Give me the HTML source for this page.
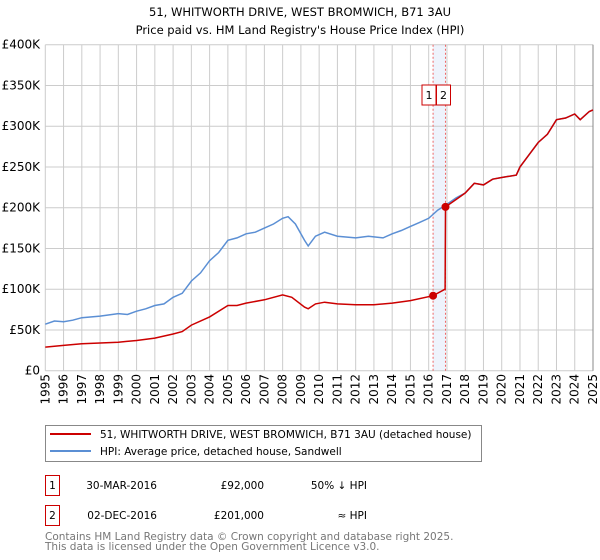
<!DOCTYPE html>
<html><head><meta charset="utf-8"><style>
body{margin:0;background:#fff;font-family:"DejaVu Sans","Liberation Sans",sans-serif;}
#wrap{position:relative;width:600px;height:560px;overflow:hidden}
</style></head><body><div id="wrap">
<svg id="chart" width="600" height="560" style="position:absolute;left:0;top:0;font-family:'DejaVu Sans','Liberation Sans',sans-serif"></svg>
</div>
<script>
const hpiYears=[1995,1995.5,1996,1996.5,1997,1998,1999,1999.5,2000,2000.5,2001,2001.5,2002,2002.5,2003,2003.5,2004,2004.5,2005,2005.5,2006,2006.5,2007,2007.5,2008,2008.3,2008.7,2009.2,2009.4,2009.8,2010.3,2011,2012,2012.7,2013.5,2014,2014.5,2015,2015.5,2016,2016.5,2016.92,2017.5,2018,2018.5,2019,2019.5,2020,2020.8,2021,2021.5,2022,2022.5,2023,2023.5,2024,2024.3,2024.8,2025];
const hpiValues=[57,61,60,62,65,67,70,69,73,76,80,82,90,95,110,120,135,145,160,163,168,170,175,180,187,189,180,160,153,165,170,165,163,165,163,168,172,177,182,187,197,203,212,218,230,228,235,237,240,250,265,280,290,308,310,315,308,318,320];
const redYears=[1995,1996,1997,1998,1999,2000,2001,2002,2002.5,2003,2004,2005,2005.5,2006,2007,2008,2008.5,2009.2,2009.4,2009.8,2010.3,2011,2012,2013,2014,2015,2016.24,2016.9,2016.92,2017.5,2018,2018.5,2019,2019.5,2020,2020.8,2021,2021.5,2022,2022.5,2023,2023.5,2024,2024.3,2024.8,2025];
const redValues=[29,31,33,34,35,37,40,45,48,56,66,80,80,83,87,93,90,78,76,82,84,82,81,81,83,86,92,100,201,210,218,230,228,235,237,240,250,265,280,290,308,310,315,308,318,320];
const saleYears=[2016.24,2016.92];
const saleValues=[92,201];
const yTicks=[0,50,100,150,200,250,300,350,400];
const yTickLabels=["£0","£50K","£100K","£150K","£200K","£250K","£300K","£350K","£400K"];
const xTicks=[1995,1996,1997,1998,1999,2000,2001,2002,2003,2004,2005,2006,2007,2008,2009,2010,2011,2012,2013,2014,2015,2016,2017,2018,2019,2020,2021,2022,2023,2024,2025];

const X0=45.3,X1=593,Y0=370.7,Y1=44.7;
const xs=y=>X0+(y-1995)/30*(X1-X0);
const ys=v=>Y0-v/400*(Y0-Y1);
const svg=document.getElementById('chart');
const NS='http://www.w3.org/2000/svg';
function mk(tag,attrs,parent){const e=document.createElementNS(NS,tag);for(const k in attrs)e.setAttribute(k,attrs[k]);(parent||svg).appendChild(e);return e;}
function txt(s,attrs){const e=mk('text',attrs);e.textContent=s;return e;}

let e;
e=txt('51, WHITWORTH DRIVE, WEST BROMWICH, B71 3AU',{x:300,y:16,'text-anchor':'middle','font-size':11.5});


e=txt("Price paid vs. HM Land Registry's House Price Index (HPI)",{x:300,y:34,'text-anchor':'middle','font-size':11.5});



e=mk('rect',{x:xs(saleYears[0]),y:Y1,width:xs(saleYears[1])-xs(saleYears[0]),height:Y0-Y1,fill:'#eef3fc'});



yTicks.forEach((v,i)=>{
 e=mk('line',{x1:X0,x2:X1,y1:ys(v),y2:ys(v),stroke:'#cccccc','stroke-width':1});
 
 
 e=txt(yTickLabels[i],{x:40,y:ys(v)+4,'text-anchor':'end','font-size':12});
 
 
});
xTicks.forEach(y=>{
 e=mk('line',{x1:xs(y),x2:xs(y),y1:Y1,y2:Y0,stroke:'#cccccc','stroke-width':1});
 
 
 e=txt(String(y),{x:0,y:0,'text-anchor':'end','font-size':12,transform:`translate(${xs(y)+4},374) rotate(-90)`});
 
 
});
e=mk('line',{x1:X1,x2:X1,y1:Y1,y2:Y0,stroke:'#888','stroke-width':1});



saleYears.forEach((y,i)=>{
 e=mk('line',{x1:xs(y),x2:xs(y),y1:Y1,y2:Y0,stroke:'#ee6666','stroke-width':1,'stroke-dasharray':'2,2'});
 
 
});

const pts=(xa,va)=>xa.map((y,i)=>xs(y).toFixed(1)+','+ys(va[i]).toFixed(1)).join(' ');
e=mk('polyline',{points:pts(hpiYears,hpiValues),fill:'none',stroke:'#5b8fd4','stroke-width':1.5});


e=mk('polyline',{points:pts(redYears,redValues),fill:'none',stroke:'#cc0000','stroke-width':1.5});


saleYears.forEach((y,i)=>{
 e=mk('circle',{cx:xs(y),cy:ys(saleValues[i]),r:4,fill:'#cc0000'});
 
 
});
[['1',422],['2',436.5]].forEach(([s,x])=>{
 e=mk('rect',{x:x,y:85,width:14,height:20,fill:'#fff',stroke:'#cc0000','stroke-width':1});
 
 
 e=txt(s,{x:x+7,y:99,'text-anchor':'middle','font-size':11});
 
 
});

e=mk('rect',{x:45.5,y:425.5,width:436,height:36,fill:'#fff',stroke:'#888','stroke-width':1});


e=mk('line',{x1:50,x2:91,y1:434,y2:434,stroke:'#cc0000','stroke-width':2});


e=txt('51, WHITWORTH DRIVE, WEST BROMWICH, B71 3AU (detached house)',{x:100,y:438,'font-size':10.5});


e=mk('line',{x1:50,x2:91,y1:451,y2:451,stroke:'#5b8fd4','stroke-width':2});


e=txt('HPI: Average price, detached house, Sandwell',{x:100,y:455,'font-size':10.5});



[['1','30-MAR-2016','£92,000','50% ↓ HPI',475],['2','02-DEC-2016','£201,000','≈ HPI',505]].forEach(r=>{
 const yy=r[4];
 e=mk('rect',{x:45.5,y:yy+0.5,width:14,height:20,fill:'#fff',stroke:'#cc0000','stroke-width':1});
 
 
 e=txt(r[0],{x:52.5,y:yy+14,'text-anchor':'middle','font-size':10.5});
 
 
 e=txt(r[1],{x:157,y:yy+14,'text-anchor':'end','font-size':10.5});
 
 
 e=txt(r[2],{x:264,y:yy+14,'text-anchor':'end','font-size':10.5});
 
 
 e=txt(r[3],{x:367,y:yy+14,'text-anchor':'end','font-size':10.5});
 
 
});
e=txt('Contains HM Land Registry data © Crown copyright and database right 2025.',{x:45,y:540,'font-size':10.5,fill:'#777'});


e=txt('This data is licensed under the Open Government Licence v3.0.',{x:45,y:550,'font-size':10.5,fill:'#777'});


</script></body></html>
